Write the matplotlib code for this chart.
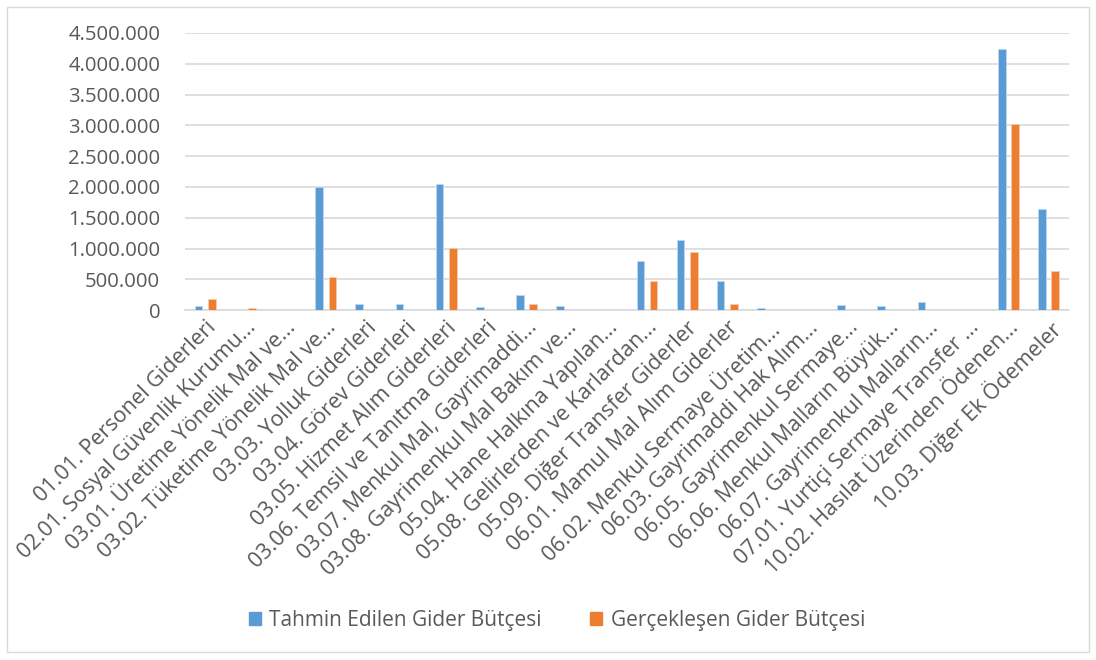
import matplotlib
matplotlib.use("Agg")
import matplotlib.pyplot as plt
from matplotlib.ticker import FuncFormatter
from matplotlib.patches import Rectangle, Patch
import numpy as np

plt.rcParams['font.family'] = ['Open Sans', 'DejaVu Sans']

categories = [
    "01.01. Personel Giderleri",
    "02.01. Sosyal Güvenlik Kurumu...",
    "03.01. Üretime Yönelik Mal ve...",
    "03.02. Tüketime Yönelik Mal ve...",
    "03.03. Yolluk Giderleri",
    "03.04. Görev Giderleri",
    "03.05. Hizmet Alım Giderleri",
    "03.06. Temsil ve Tanıtma Giderleri",
    "03.07. Menkul Mal, Gayrimaddi...",
    "03.08. Gayrimenkul Mal Bakım ve...",
    "05.04. Hane Halkına Yapılan...",
    "05.08. Gelirlerden ve Karlardan...",
    "05.09. Diğer Transfer Giderler",
    "06.01. Mamul Mal Alım Giderler",
    "06.02. Menkul Sermaye Üretim...",
    "06.03. Gayrimaddi Hak Alım...",
    "06.05. Gayrimenkul Sermaye...",
    "06.06. Menkul Malların Büyük...",
    "06.07. Gayrimenkul Malların...",
    "07.01. Yurtiçi Sermaye Transfer ...",
    "10.02. Hasılat Üzerinden Ödenen...",
    "10.03. Diğer Ek Ödemeler",
]
tahmin = [65000, 6000, 0, 2000000, 95000, 95000, 2050000, 45000, 248000, 65000,
          8000, 800000, 1140000, 470000, 40000, 8000, 85000, 65000, 130000, 0,
          4245000, 1635000]
gercek = [180000, 30000, 0, 535000, 0, 0, 1010000, 0, 95000, 0,
          0, 470000, 950000, 100000, 0, 0, 0, 0, 0, 0,
          3025000, 635000]
series_names = ["Tahmin Edilen Gider Bütçesi", "Gerçekleşen Gider Bütçesi"]
yticks = np.arange(0, 4500001, 500000)

BLUE = "#5B9BD5"
ORANGE = "#ED7D31"
TXT = "#595959"

fig = plt.figure(figsize=(10.96, 6.6), dpi=100)
ax = fig.add_axes([0.169, 0.530, 0.806, 0.420])

x = np.arange(len(categories))
w = 0.19
off = 0.165
ax.bar(x - off, tahmin, w, color=BLUE, edgecolor="#BDD7EE", linewidth=0.6, zorder=3)
ax.bar(x + off, gercek, w, color=ORANGE, edgecolor="#F8CBAD", linewidth=0.6, zorder=3)

ax.set_xlim(-0.5, len(categories) - 0.5)
ax.set_ylim(0, 4500000)
ax.set_yticks(yticks)
ax.yaxis.set_major_formatter(FuncFormatter(lambda v, p: f"{int(v):,}".replace(",", ".")))
ax.grid(axis='y', color="#D9D9D9", linewidth=1.2, zorder=0)
for s in ["top", "right", "left"]:
    ax.spines[s].set_visible(False)
ax.spines["bottom"].set_color("#D9D9D9")
ax.spines["bottom"].set_linewidth(1.2)
ax.tick_params(axis='y', length=0, labelsize=14.6, labelcolor=TXT, pad=18)
ax.tick_params(axis='x', length=0, labelsize=15.5, labelcolor=TXT, pad=5)
ax.set_xticks(x)
ax.set_xticklabels(categories, rotation=45, ha='right', rotation_mode='anchor')

handles = [Patch(color=BLUE), Patch(color=ORANGE)]
fig.legend(handles, series_names, loc='center', bbox_to_anchor=(0.508, 0.06),
           ncol=2, frameon=False, fontsize=15, labelcolor=TXT,
           handlelength=0.6, handleheight=0.6, columnspacing=2.3, handletextpad=0.4)

fig.patches.append(Rectangle((0.006, 0.012), 0.988, 0.978, transform=fig.transFigure,
                             fill=False, edgecolor="#D9D9D9", linewidth=1.0))

fig.savefig("out.png", dpi=100, facecolor="white")
